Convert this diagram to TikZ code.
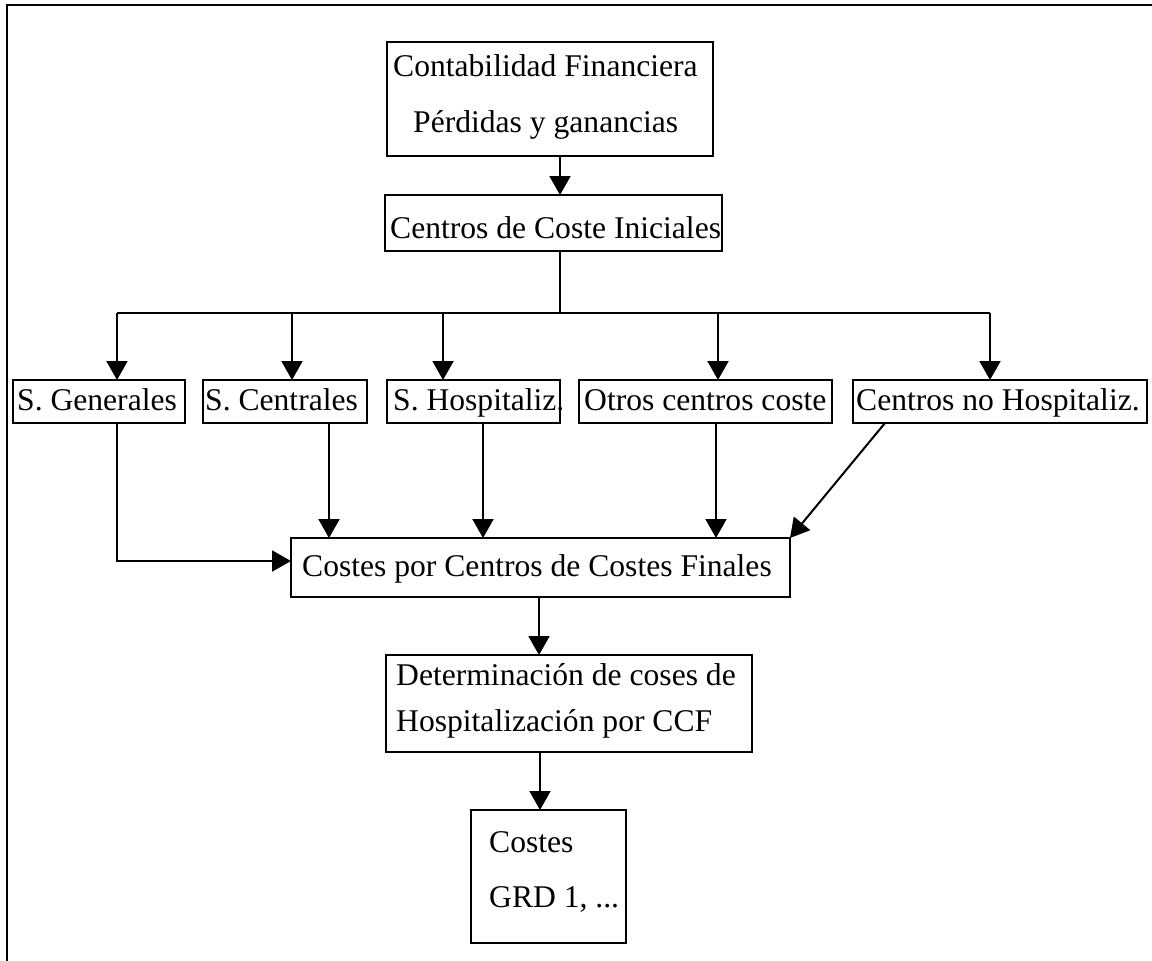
\documentclass[tikz,border=0pt]{standalone}
\usepackage{fontspec}
\setmainfont{Liberation Serif}
\usetikzlibrary{arrows.meta}
\begin{document}
\begin{tikzpicture}[x=1pt,y=-1pt,
  box/.style={draw,line width=2pt,inner sep=0pt,outer sep=0pt,
              minimum width=#1},
  lbl/.style={inner sep=0pt,anchor=base west,
              font=\fontsize{31.6}{38}\selectfont},
  link/.style={line width=2pt},
  arr/.style={line width=2pt,-{Triangle[length=19pt,width=21pt]}}]
\useasboundingbox (0,0) rectangle (1152,961);

% open frame (top and left edges)
\draw[line width=2pt] (7,963) -- (7,5) -- (1154,5);

% boxes
\node[box=326,minimum height=114] (top)  at (550,99) {};
\node[box=337,minimum height=56]  (init) at (553.5,223) {};
\node[box=172,minimum height=43]  (gen)  at (99,401.5) {};
\node[box=164,minimum height=43]  (cen)  at (285,401.5) {};
\node[box=173,minimum height=43]  (hos)  at (473.5,401.5) {};
\node[box=253,minimum height=43]  (otr)  at (705.5,401.5) {};
\node[box=294,minimum height=43]  (cnh)  at (1000,401.5) {};
\node[box=499,minimum height=59]  (fin)  at (540.5,567.5) {};
\node[box=366,minimum height=97]  (det)  at (569,703.5) {};
\node[box=155,minimum height=133] (grd)  at (548.5,876.5) {};

% texts
\node[lbl] (t1a) at (393,76)  {Contabilidad Financiera};
\node[lbl] (t1b) at (413,132) {Pérdidas y ganancias};
\node[lbl] (t2)  at (390,238) {Centros de Coste Iniciales};
\node[lbl] (t3)  at (17,410)  {S. Generales};
\node[lbl] (t4)  at (205,410) {S. Centrales};
\node[lbl] (t5)  at (393,410) {S. Hospitaliz.};
\node[lbl] (t6)  at (584,410) {Otros centros coste};
\node[lbl] (t7)  at (856,410) {Centros no Hospitaliz.};
\node[lbl] (t8)  at (302,576) {Costes por Centros de Costes Finales};
\node[lbl] (t9a) at (396,685) {Determinación de coses de};
\node[lbl] (t9b) at (396,731) {Hospitalización por CCF};
\node[lbl] (t10a) at (489,852) {Costes};
\node[lbl] (t10b) at (489,907) {GRD 1, ...};

% connector columns and rows
\coordinate (xm) at (560,0);
\coordinate (bus) at (0,313);
\coordinate (xg) at (117,0);
\coordinate (xc) at (292,0);
\coordinate (xh) at (443,0);
\coordinate (xo) at (718,0);
\coordinate (xn) at (990,0);
\coordinate (dc) at (329,0);
\coordinate (dh) at (483,0);
\coordinate (do) at (716,0);
\coordinate (dn) at (885,0);
\coordinate (yg) at (0,561);
\coordinate (xf) at (539,0);
\coordinate (xd) at (540,0);

\draw[arr] (top.south -| xm) -- (init.north -| xm);
\draw[link] (init.south -| xm) -- (bus -| xm);
\draw[link] (bus -| xg) -- (bus -| xn);
\draw[arr] (bus -| xg) -- (gen.north -| xg);
\draw[arr] (bus -| xc) -- (cen.north -| xc);
\draw[arr] (bus -| xh) -- (hos.north -| xh);
\draw[arr] (bus -| xo) -- (otr.north -| xo);
\draw[arr] (bus -| xn) -- (cnh.north -| xn);

\draw[arr] (gen.south -| xg) |- (fin.west |- yg);
\draw[arr] (cen.south -| dc) -- (fin.north -| dc);
\draw[arr] (hos.south -| dh) -- (fin.north -| dh);
\draw[arr] (otr.south -| do) -- (fin.north -| do);
\draw[arr] (cnh.south -| dn) -- (fin.north east);

\draw[arr] (fin.south -| xf) -- (det.north -| xf);
\draw[arr] (det.south -| xd) -- (grd.north -| xd);
\end{tikzpicture}
\end{document}
